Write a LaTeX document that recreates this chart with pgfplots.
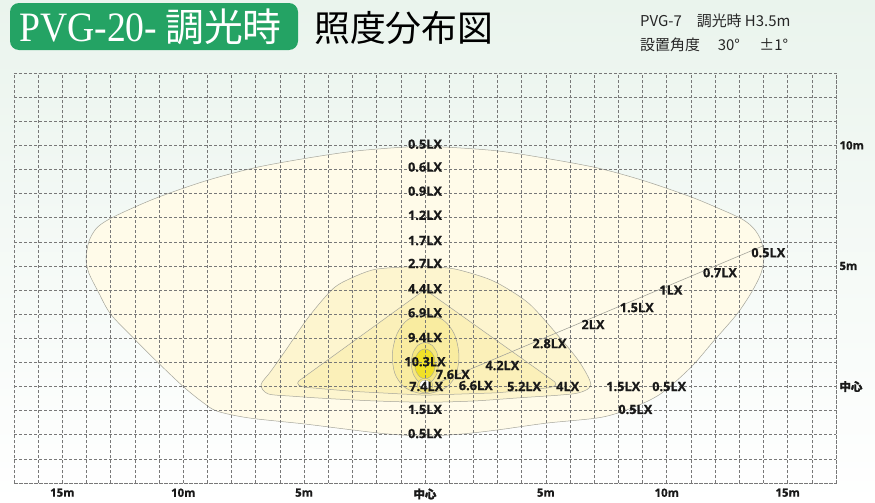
\documentclass[border=0pt]{standalone}
\usepackage{pgfplots}
\pgfplotsset{compat=1.18}
\usepackage{graphicx}
\usepackage{fontspec}
\setmainfont{Open Sans}
\newfontfamily\lblfont[FakeBold=0.6]{Open Sans Bold}
\newfontfamily\cjk{Noto Sans CJK JP}
\newfontfamily\cjkb[FakeBold=1.5]{Noto Sans CJK JP}
\newfontfamily\serifL{Liberation Serif}
\definecolor{bgtop}{RGB}{234,244,237}
\definecolor{tgreen}{RGB}{36,163,100}
\definecolor{cline}{RGB}{165,165,155}
\definecolor{cA}{RGB}{255,251,233}
\definecolor{cB}{RGB}{253,245,207}
\definecolor{cC}{RGB}{251,240,185}
\definecolor{cD}{RGB}{249,236,160}
\definecolor{cE}{RGB}{246,231,125}
\definecolor{cF}{RGB}{240,224,40}
\definecolor{gridc}{RGB}{120,120,120}
\tikzset{lbl/.style={font=\lblfont\fontsize{12.8}{13}\selectfont, inner sep=0pt, text=black!90}}
\begin{document}
\begin{tikzpicture}
% background
\shade[top color=bgtop, bottom color=white] (0bp,0bp) rectangle (875bp,-503bp);
% title box
\fill[tgreen, rounded corners=9bp] (10bp,-3bp) rectangle (298bp,-50bp);
\node[anchor=base west, inner sep=0pt, text=white] at (19bp,-41bp)
  {\fontsize{42}{42}\selectfont\scalebox{0.9}[1]{\serifL PVG-20-}\hspace{8bp}{\cjk\fontsize{39}{39}\selectfont 調光時}};
\node[anchor=base west, inner sep=0pt, text=black] at (314bp,-41bp)
  {\cjk\fontsize{36}{36}\selectfont 照度分布図};
\node[anchor=base west, inner sep=0pt, text=black!85] at (640bp,-26bp)
  {\cjk\fontsize{15}{15}\selectfont PVG-7\hspace{1em}調光時 H3.5m};
\node[anchor=base west, inner sep=0pt, text=black!85] at (640bp,-50bp)
  {\cjk\fontsize{15}{15}\selectfont 設置角度\hspace{1.2em}30°\hspace{1.3em}±1°};
\begin{axis}[
  at={(14bp,-483bp)}, anchor=south west,
  scale only axis, width=822bp, height=410bp,
  xmin=-17, xmax=17, ymin=-4, ymax=13,
  set layers, axis on top,
  xtick={-15,-10,...,15},
  xticklabels={15m,10m,5m,{\cjkb\bfseries 中心},5m,10m,15m},
  minor xtick={-17,...,17},
  ytick={0,5,10},
  yticklabels={{\cjkb\bfseries 中心},5m,10m},
  minor ytick={-4,...,13},
  yticklabel pos=right,
  grid=both,
  major grid style={gridc, line width=0.6bp, dash pattern=on 3bp off 2bp},
  minor grid style={gridc, line width=0.6bp, dash pattern=on 3bp off 2bp},
  axis line style={gridc, line width=0.6bp, dash pattern=on 3bp off 2bp},
  major tick length=0pt, minor tick length=0pt,
  ticklabel style={font=\lblfont\fontsize{11.5}{12}\selectfont, text=black!90},
  xticklabel style={yshift=-2bp},
  yticklabel style={xshift=0bp},
]
% 0.5 LX outer
\addplot[draw=cline, line width=0.5bp, fill=cA, smooth, tension=0.5] coordinates {
(0,9.95) (-1,9.92) (-3,9.75) (-5,9.45) (-7,9.08) (-9,8.55) (-10.9,7.9) (-12.1,7.4)
(-13.1,6.92) (-13.6,6.55) (-13.9,6.02) (-14.02,5.3) (-13.9,4.7) (-13.5,3.9) (-13.0,3.0)
(-12.0,1.95) (-11,0.95) (-10,0.0) (-9.2,-0.65) (-8.6,-1.02) (-7.3,-1.3) (-5,-1.55)
(-3,-1.8) (-1.5,-1.97) (0,-2.05) (1.5,-1.97) (3,-1.8) (5,-1.52) (7.27,-1.28) (8.6,-0.87)
(9.75,-0.3) (11,0.8) (11.95,1.9) (12.9,3.0) (13.5,3.9) (13.9,4.7) (14.02,5.4) (13.9,6.05)
(13.6,6.55) (13.1,6.95) (12.0,7.45) (10.9,7.9) (9,8.55) (7.1,9.07) (4.9,9.48) (3,9.77)
(1,9.92) (0,9.95)};
% 2.7 LX
\addplot[draw=cline, line width=0.5bp, fill=cB, smooth, tension=0.5] coordinates {
(0,4.97) (-1,4.95) (-2.1,4.85) (-3,4.52) (-3.8,4.06) (-4.8,2.9) (-5.8,1.45) (-6.4,0.6)
(-6.78,0.08) (-6.5,-0.3) (-5.5,-0.4) (-4,-0.5) (-2,-0.6) (0,-0.65) (2,-0.6) (4,-0.46)
(5.5,-0.36) (6.4,-0.25) (6.86,0.08) (6.4,1.0) (5.6,2.0) (4.4,3.35) (3.5,4.0) (2.6,4.47)
(1.2,4.88) (0,4.97)};
% 4.4 LX triangle
\addplot[draw=cline, line width=0.5bp, fill=cC, rounded corners=4bp] coordinates {
(0,4.02) (-5.35,0.14) (-5.1,-0.02) (-3,-0.2) (0,-0.36) (3,-0.26) (5.25,-0.04)
(5.5,0.1) (0,4.02)} -- cycle;
% 6.9 LX egg
\addplot[draw=cline, line width=0.5bp, fill=cD, smooth, tension=0.55] coordinates {
(0,3.0) (-0.7,2.78) (-1.15,2.2) (-1.35,1.35) (-1.25,0.55) (-0.9,0.02) (-0.45,-0.22)
(0,-0.3) (0.45,-0.22) (0.95,0.02) (1.3,0.55) (1.4,1.35) (1.2,2.2) (0.72,2.78) (0,3.0)};
% 9.4 LX
\addplot[draw=cline, line width=0.5bp, fill=cE, smooth] coordinates {
(0.57,0.97) (0.494,1.40) (0.285,1.715) (0,1.83) (-0.285,1.715) (-0.494,1.40) (-0.57,0.97)
(-0.494,0.54) (-0.285,0.225) (0,0.11) (0.285,0.225) (0.494,0.54) (0.57,0.97)};
% 10.3 LX
\addplot[draw=cline, line width=0.4bp, fill=cF, smooth] coordinates {
(0.43,0.94) (0.372,1.25) (0.215,1.477) (0,1.56) (-0.215,1.477) (-0.372,1.25) (-0.43,0.94)
(-0.372,0.63) (-0.215,0.403) (0,0.32) (0.215,0.403) (0.372,0.63) (0.43,0.94)};
% ring at centre
\addplot[draw=cline, line width=0.4bp, fill=cE, smooth] coordinates {
(0.32,0.04) (0.277,0.19) (0.16,0.30) (0,0.34) (-0.16,0.30) (-0.277,0.19) (-0.32,0.04)
(-0.277,-0.11) (-0.16,-0.22) (0,-0.26) (0.16,-0.22) (0.277,-0.11) (0.32,0.04)};
\addplot[draw=cline, line width=0.3bp, fill=white, smooth] coordinates {
(0.22,0.07) (0.19,0.17) (0.11,0.24) (0,0.26) (-0.11,0.24) (-0.19,0.17) (-0.22,0.07)
(-0.19,-0.03) (-0.11,-0.10) (0,-0.12) (0.11,-0.10) (0.19,-0.03) (0.22,0.07)};
% pointer line
\addplot[draw=cline, line width=0.6bp] coordinates {(0.5,0.14) (14,5.84)};
\begin{pgfonlayer}{axis foreground}
\node[lbl] at (axis cs:0,10.05) {0.5LX};
\node[lbl] at (axis cs:0,9.1) {0.6LX};
\node[lbl] at (axis cs:0,8.1) {0.9LX};
\node[lbl] at (axis cs:0,7.1) {1.2LX};
\node[lbl] at (axis cs:0,6.05) {1.7LX};
\node[lbl] at (axis cs:0,5.1) {2.7LX};
\node[lbl] at (axis cs:0,4.05) {4.4LX};
\node[lbl] at (axis cs:0,3.06) {6.9LX};
\node[lbl] at (axis cs:0,2.03) {9.4LX};
\node[lbl] at (axis cs:0,1.03) {10.3LX};
\node[lbl] at (axis cs:1.15,0.5) {7.6LX};
\node[lbl] at (axis cs:0.05,0) {7.4LX};
\node[lbl] at (axis cs:2.1,0.04) {6.6LX};
\node[lbl] at (axis cs:4.1,0) {5.2LX};
\node[lbl] at (axis cs:5.9,0) {4LX};
\node[lbl] at (axis cs:8.2,0) {1.5LX};
\node[lbl] at (axis cs:10.1,0) {0.5LX};
\node[lbl] at (axis cs:8.7,-0.95) {0.5LX};
\node[lbl] at (axis cs:0,-0.95) {1.5LX};
\node[lbl] at (axis cs:0,-1.95) {0.5LX};
\node[lbl] at (axis cs:3.2,0.87) {4.2LX};
\node[lbl] at (axis cs:5.15,1.78) {2.8LX};
\node[lbl] at (axis cs:6.95,2.57) {2LX};
\node[lbl] at (axis cs:8.76,3.27) {1.5LX};
\node[lbl] at (axis cs:10.17,4.0) {1LX};
\node[lbl] at (axis cs:12.2,4.72) {0.7LX};
\node[lbl] at (axis cs:14.2,5.55) {0.5LX};
\end{pgfonlayer}
\end{axis}
\end{tikzpicture}
\end{document}
